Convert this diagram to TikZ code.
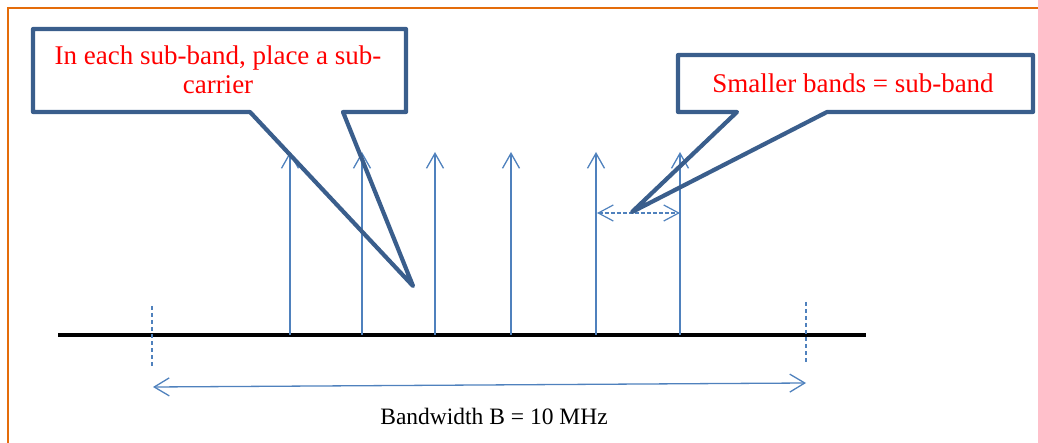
\documentclass[tikz,border=0pt]{standalone}
\usepackage{fontspec}
\setmainfont{Liberation Serif}
\usetikzlibrary{arrows.meta}
\definecolor{frameorange}{HTML}{E46C0A}
\definecolor{calloutblue}{HTML}{3A5E8C}
\definecolor{carrierblue}{HTML}{4F81BD}
\definecolor{textred}{HTML}{FF0000}
\tikzset{
  frame/.style={draw=frameorange,line width=2.2pt},
  calloutline/.style={draw=calloutblue,line width=4.2pt,line join=round},
  callouttext/.style={text=textred,font=\fontsize{27}{29}\selectfont,align=center,inner sep=0pt},
  carrier/.style={draw=carrierblue,line width=1.3pt,-{Straight Barb[length=15pt,width=17pt,line width=1.3pt]}},
  baseline/.style={draw=black,line width=4.5pt},
  bandmark/.style={draw=carrierblue,line width=1.2pt,dashed,dash pattern=on 4pt off 3pt},
  bwarrow/.style={draw=carrierblue,line width=1.3pt,{Straight Barb[length=15pt,width=18pt,line width=1.3pt]}-{Straight Barb[length=15pt,width=18pt,line width=1.3pt]}},
  subarrow/.style={draw=carrierblue,line width=1.2pt,dash pattern=on 4pt off 2pt,{Straight Barb[length=15pt,width=16pt,line width=1.2pt]}-{Straight Barb[length=15pt,width=16pt,line width=1.2pt]}},
  bwtext/.style={text=black,font=\fontsize{23.5}{26}\selectfont,inner sep=0pt}
}
\begin{document}
\begin{tikzpicture}[x=1pt,y=-1pt]
\useasboundingbox (0,0) rectangle (1038,443);
% frame
\coordinate (fTL) at (8,8);
\coordinate (fTR) at (1040,8);
\coordinate (fBL) at (8,445);
\draw[frame] (fTR) -- (fTL) -- (fBL);
% baseline
\coordinate (bL) at (58,335);
\coordinate (bR) at (866,335);
\draw[baseline] (bL) -- (bR);
% carriers
\foreach \i/\x in {1/290,2/362,3/435,4/511,5/596,6/680}{
  \coordinate (c\i b) at (\x,335);
  \coordinate (c\i t) at (\x,152);
  \draw[carrier] (c\i b) -- (c\i t);
}
% bandwidth marks
\coordinate (mLt) at (152,306);
\coordinate (mLb) at (152,366);
\coordinate (mRt) at (806,302);
\coordinate (mRb) at (806,362);
\draw[bandmark] (mLt) -- (mLb);
\draw[bandmark] (mRt) -- (mRb);
\coordinate (bwL) at (153,387);
\coordinate (bwR) at (806,383);
\draw[bwarrow] (bwL) -- (bwR);
\node[bwtext] (bw) at (494,416) {Bandwidth B = 10 MHz};
% sub-band arrow
\coordinate (sL) at (597,213);
\coordinate (sR) at (680,213);
\draw[subarrow] (sL) -- (sR);
% left callout
\coordinate (tip1) at (413,286);
\draw[calloutline] (33,29) -- (406,29) -- (406,112) -- (343,112) -- (tip1) -- (250,112) -- (33,112) -- cycle;
\node[callouttext] (t1) at (218,70) {In each sub-band, place a sub-\\carrier};
% right callout
\coordinate (tip2) at (632,212);
\draw[calloutline] (678,55) -- (1033,55) -- (1033,112) -- (827,112) -- (tip2) -- (737,112) -- (678,112) -- cycle;
\node[callouttext] (t2) at (853,83) {Smaller bands = sub-band};
\end{tikzpicture}
\end{document}
